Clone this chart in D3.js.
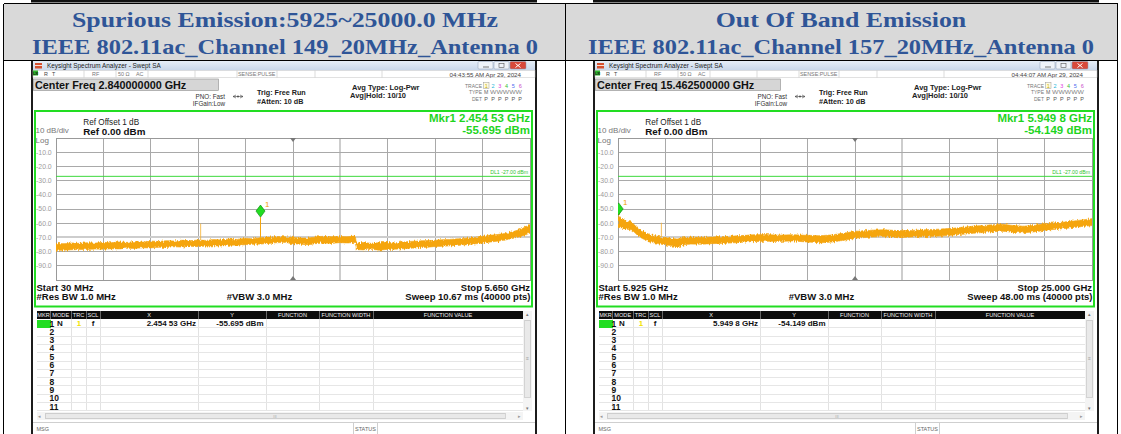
<!DOCTYPE html>
<html>
<head>
<meta charset="utf-8">
<script src="https://cdn.jsdelivr.net/npm/d3@7"></script>
<style>
body { margin: 0; background: #fff; }
svg { display: block; }
text { font-family: "Liberation Sans", Arial, sans-serif; }
text.serif { font-family: "Liberation Serif", "DejaVu Serif", serif; }
</style>
</head>
<body>
<script>
const dimensions = {
    width: 1121,
    height: 434
}

// header cells
const headLine1 = ['Spurious Emission:5925~25000.0 MHz', 'Out Of Band Emission']
const headLine2 = ['IEEE 802.11ac_Channel 149_20MHz_Antenna 0', 'IEEE 802.11ac_Channel 157_20MHz_Antenna 0']

// analyzer settings
const centerFreq = ['Center Freq 2.840000000 GHz', 'Center Freq 15.462500000 GHz']
const startFreq = [0.03, 5.925]   // GHz
const stopFreq = [5.65, 25.0]     // GHz
const startLabel = ['Start 30 MHz', 'Start 5.925 GHz']
const stopLabel = ['Stop 5.650 GHz', 'Stop 25.000 GHz']
const sweepLabel = ['Sweep  10.67 ms (40000 pts)', 'Sweep  48.00 ms (40000 pts)']
const timeStamp = ['04:43:55 AM Apr 29, 2024', '04:44:07 AM Apr 29, 2024']
const refLevel = 0
const dbPerDiv = 10
const levelTicks = [-10, -20, -30, -40, -50, -60, -70, -80, -90]
const displayLine = -27

// marker 1
const mkrFreq = [2.45453, 5.9498]
const mkrLevel = [-55.695, -54.149]
const mkrFreqLabel = ['2.454 53 GHz', '5.949 8 GHz']
const mkrLevelLabel = ['-55.695 dBm', '-54.149 dBm']

// trace 1, left plot (GHz, top and bottom of the noise band in dBm)
const leftFreq = [0.03, 0.12, 0.22, 0.31, 0.40, 0.50, 0.59, 0.68, 0.78, 0.87, 0.96, 1.06, 1.15, 1.24, 1.34, 1.43, 1.52, 1.62, 1.71, 1.80,
    1.90, 1.99, 2.08, 2.18, 2.27, 2.36, 2.46, 2.55, 2.64, 2.74, 2.83, 2.92, 3.02, 3.11, 3.20, 3.30, 3.39, 3.48, 3.58, 3.59,
    3.67, 3.76, 3.86, 3.95, 4.04, 4.14, 4.23, 4.32, 4.42, 4.51, 4.60, 4.70, 4.79, 4.88, 4.98, 5.07, 5.16, 5.26, 5.35, 5.44, 5.54, 5.65]
const leftHigh = [-74.2, -74.4, -73.9, -74.2, -73.8, -74.0, -73.5, -73.8, -73.2, -73.5, -72.9, -73.3, -72.5, -72.9, -72.3, -72.6, -72.0, -72.4, -71.8, -72.1,
    -71.5, -71.8, -71.1, -71.4, -70.6, -70.9, -70.2, -69.8, -69.4, -69.5, -69.9, -70.5, -70.4, -69.7, -69.2, -69.6, -69.3, -69.5, -69.1, -73.9,
    -73.6, -74.1, -73.8, -73.5, -73.9, -73.2, -72.8, -72.6, -72.2, -72.1, -71.6, -71.4, -71.0, -70.6, -70.1, -69.4, -68.6, -68.0, -67.2, -66.1, -64.2, -61.0]
const leftLow = [-79.2, -79.0, -78.7, -78.6, -78.5, -78.2, -78.4, -78.0, -78.1, -77.6, -77.8, -77.3, -77.4, -77.0, -77.1, -76.6, -76.8, -76.3, -76.5, -76.1,
    -75.9, -76.1, -75.6, -75.4, -75.2, -74.9, -74.7, -74.3, -73.8, -73.5, -74.4, -74.8, -75.1, -74.4, -74.0, -74.2, -73.7, -73.9, -73.6, -78.6,
    -78.8, -78.3, -79.0, -78.5, -78.4, -78.0, -77.7, -77.3, -77.0, -76.5, -76.3, -75.9, -75.7, -75.2, -74.7, -74.1, -73.4, -72.7, -71.9, -70.8, -69.3, -67.0]

// trace 1, right plot
const rightFreq = [5.925, 6.06, 6.27, 6.47, 6.61, 6.74, 6.95, 7.22, 7.49, 7.77, 8.04, 8.31, 8.58, 8.86, 9.27, 9.68, 10.22, 10.77, 11.31, 11.86,
    12.41, 12.95, 13.50, 14.05, 14.59, 15.14, 15.54, 16.09, 16.64, 17.18, 17.73, 18.27, 18.82, 19.37, 19.91, 20.46, 21.00, 21.41, 21.82, 22.23,
    22.64, 23.05, 23.46, 23.87, 24.28, 24.69, 25.0]
const rightHigh = [-53.6, -56.6, -58.6, -59.1, -61.6, -64.1, -66.1, -68.1, -69.1, -70.1, -70.6, -71.1, -70.1, -69.8, -70.1, -69.8, -69.4, -68.9, -68.2, -68.0,
    -68.4, -68.1, -68.5, -68.8, -68.2, -66.6, -65.6, -64.9, -64.6, -65.2, -65.1, -64.6, -64.2, -63.6, -62.6, -61.8, -61.1, -60.8, -61.6, -62.1,
    -61.6, -60.4, -59.8, -59.2, -58.4, -57.5, -56.8]
const rightLow = [-63.0, -63.2, -64.2, -64.7, -66.7, -69.2, -71.2, -73.2, -74.2, -75.2, -75.7, -76.7, -75.2, -74.7, -74.8, -74.4, -74.2, -73.6, -73.0, -72.7,
    -72.8, -72.5, -73.2, -73.8, -73.2, -71.7, -70.5, -69.8, -69.4, -70.2, -69.7, -69.5, -69.1, -68.5, -67.6, -66.8, -66.0, -65.7, -66.4, -66.8,
    -66.2, -65.1, -64.4, -63.8, -63.0, -62.2, -61.7]

// narrow spurs above the noise band
const spurFreq = [[1.745], [7.67]]
const spurLevel = [[-60.3], [-59.7]]

// marker table
const tableHead = ['MKR', 'MODE', 'TRC', 'SCL', 'X', 'Y', 'FUNCTION', 'FUNCTION WIDTH', 'FUNCTION VALUE']
const tableRows = ['1', '2', '3', '4', '5', '6', '7', '8', '9', '10', '11']

const traces = [
    { freq: leftFreq, high: leftHigh, low: leftLow },
    { freq: rightFreq, high: rightHigh, low: rightLow }
]

const svg = d3.select('body').append('svg')
    .attr('width', dimensions.width)
    .attr('height', dimensions.height)

const defs = svg.append('defs')
const grad = defs.append('linearGradient').attr('id', 'titleGrad').attr('x1', 0).attr('y1', 0).attr('x2', 0).attr('y2', 1)
grad.append('stop').attr('offset', '0%').attr('stop-color', '#e6eef8')
grad.append('stop').attr('offset', '100%').attr('stop-color', '#c8d7ea')

// ragged edge for the noise band, like 40000 sweep points squeezed into a few hundred pixels
const noisy = defs.append('filter').attr('id', 'noisy')
    .attr('x', '-2%').attr('y', '-30%').attr('width', '104%').attr('height', '160%')
noisy.append('feTurbulence').attr('type', 'fractalNoise').attr('baseFrequency', '1.3 0.2')
    .attr('numOctaves', 2).attr('seed', 7).attr('result', 'n')
noisy.append('feDisplacementMap').attr('in', 'SourceGraphic').attr('in2', 'n').attr('scale', 4.5)
    .attr('xChannelSelector', 'R').attr('yChannelSelector', 'G')

// ---------- document table ----------
svg.append('rect').attr('x', 31).attr('y', 0).attr('width', 506).attr('height', 2.5).attr('fill', '#111')
svg.append('rect').attr('x', 593).attr('y', 0).attr('width', 506).attr('height', 2.5).attr('fill', '#111')

svg.append('rect').attr('x', 4).attr('y', 4).attr('width', 561).attr('height', 56).attr('fill', '#d9d9d9')
svg.append('rect').attr('x', 565).attr('y', 4).attr('width', 552).attr('height', 56).attr('fill', '#d9d9d9')

const borders = svg.append('g').attr('stroke', '#000').attr('stroke-width', 1).attr('shape-rendering', 'crispEdges')
borders.append('line').attr('x1', 3.5).attr('x2', 1117.5).attr('y1', 3.5).attr('y2', 3.5)
borders.append('line').attr('x1', 3.5).attr('x2', 1117.5).attr('y1', 60.5).attr('y2', 60.5)
;[3.5, 565.5, 1117.5].forEach(function (bx) {
    borders.append('line').attr('x1', bx).attr('x2', bx).attr('y1', 3.5).attr('y2', 434)
})

const headCenters = [285, 841]
const headText = svg.append('g')

headLine1.forEach(function (t, i) {
    headText.append('text').attr('class', 'serif h1').attr('x', headCenters[i]).attr('y', 27).text(t)
    headText.append('text').attr('class', 'serif h2').attr('x', headCenters[i]).attr('y', 54).text(headLine2[i])
})
headText.selectAll('text')
    .attr('font-weight', 'bold')
    .attr('font-size', 22)
    .attr('fill', '#2f5597')
    .attr('text-anchor', 'middle')
// widen the serif face to the width of the Cambria original
const stretch1 = 426 / headText.select('.h1').node().getComputedTextLength()
const stretch2 = 506 / headText.select('.h2').node().getComputedTextLength()
headText.selectAll('text').each(function () {
    const w = this.getComputedTextLength()
    const s = d3.select(this).classed('h1') ? stretch1 : stretch2
    d3.select(this).attr('textLength', w * s).attr('lengthAdjust', 'spacingAndGlyphs')
})

// ---------- analyzer screenshots ----------
function txt(g, x, y, s, size, opts) {
    opts = opts || {}
    return g.append('text')
        .attr('x', x).attr('y', y)
        .attr('font-size', size)
        .attr('font-weight', opts.bold ? 'bold' : 'normal')
        .attr('fill', opts.fill || '#111')
        .attr('text-anchor', opts.anchor || 'start')
        .text(s)
}

function drawPanel(p, dx) {
    const g = svg.append('g').attr('transform', 'translate(' + dx + ',0)')

    const x = d3.scaleLinear().domain([startFreq[p], stopFreq[p]]).range([56, 530])
    const y = d3.scaleLinear().domain([refLevel, refLevel - 10 * dbPerDiv]).range([138, 280])
    const div = d3.scaleLinear().domain([0, 10]).range([56, 530])

    // window frame
    g.append('rect').attr('x', 31).attr('y', 61).attr('width', 506).attr('height', 380).attr('fill', '#1c1c1c')
    g.append('rect').attr('x', 33).attr('y', 61).attr('width', 502).attr('height', 380).attr('fill', '#fff')

    // title bar
    g.append('rect').attr('x', 33).attr('y', 61).attr('width', 502).attr('height', 9.5).attr('fill', 'url(#titleGrad)')
    g.append('rect').attr('x', 35).attr('y', 63).attr('width', 7).attr('height', 5.5).attr('fill', '#d5512f')
    g.append('rect').attr('x', 35).attr('y', 65).attr('width', 7).attr('height', 0.8).attr('fill', '#fff')
    txt(g, 47, 68.3, 'Keysight Spectrum Analyzer - Swept SA', 6.4, { fill: '#222' })
    const btn = [[478, 15, '#eef3f9'], [494, 15, '#eef3f9'], [510, 16, '#d8493b']]
    btn.forEach(function (b) {
        g.append('rect').attr('x', b[0]).attr('y', 61.5).attr('width', b[1]).attr('height', 7.5)
            .attr('rx', 1).attr('fill', b[2]).attr('stroke', '#8a9bb3').attr('stroke-width', 0.5)
    })
    g.append('line').attr('x1', 483).attr('x2', 489).attr('y1', 67).attr('y2', 67).attr('stroke', '#555').attr('stroke-width', 0.8)
    g.append('rect').attr('x', 499).attr('y', 63.5).attr('width', 5).attr('height', 4).attr('fill', 'none').attr('stroke', '#555').attr('stroke-width', 0.6)
    g.append('path').attr('d', 'M515.5,63.5 L520.5,67.5 M520.5,63.5 L515.5,67.5').attr('stroke', '#fff').attr('stroke-width', 1)

    // status row
    g.append('rect').attr('x', 33).attr('y', 70.5).attr('width', 502).attr('height', 7).attr('fill', '#fff').attr('stroke', '#c4c4c4').attr('stroke-width', 0.5)
    ;[84, 116, 148, 195, 237, 277, 315, 382].forEach(function (lx) {
        g.append('line').attr('x1', lx).attr('x2', lx).attr('y1', 70.5).attr('y2', 77.5).attr('stroke', '#c4c4c4').attr('stroke-width', 0.6)
    })
    g.append('rect').attr('x', 33).attr('y', 70.5).attr('width', 5).attr('height', 5).attr('fill', '#2fb52f')
    txt(g, 33.3, 74.8, 'LXI', 3.2, { fill: '#111', bold: true })
    txt(g, 44, 76, 'R', 5.4, { fill: '#444' })
    txt(g, 52, 76, 'T', 5.4, { fill: '#444' })
    txt(g, 92, 76, 'RF', 5.4, { fill: '#777' })
    txt(g, 118, 76, '50 Ω', 5.4, { fill: '#777' })
    txt(g, 136, 76, 'AC', 5.4, { fill: '#777' })
    txt(g, 238, 76, 'SENSE:PULSE', 5.4, { fill: '#777' })
    txt(g, 521, 76.5, timeStamp[p], 6.2, { fill: '#444', anchor: 'end' })

    // center frequency box and settings
    g.append('rect').attr('x', 33.5).attr('y', 79).attr('width', 185).attr('height', 11.5)
        .attr('fill', '#d6d6d6').attr('stroke', '#8c8c8c').attr('stroke-width', 0.6)
    txt(g, 35, 88.6, centerFreq[p], 10.8, { bold: true })
    txt(g, 225, 98.5, 'PNO: Fast', 6.3, { fill: '#333', anchor: 'end' })
    txt(g, 225, 105.5, 'IFGain:Low', 6.3, { fill: '#333', anchor: 'end' })
    g.append('path').attr('d', 'M233,96.5 L243,96.5 M236,95 L233,96.5 L236,98 M240,95 L243,96.5 L240,98')
        .attr('stroke', '#444').attr('stroke-width', 0.6).attr('fill', 'none')
    g.append('circle').attr('cx', 238).attr('cy', 96.5).attr('r', 0.9).attr('fill', '#444')
    txt(g, 257, 95, 'Trig: Free Run', 7.2, { bold: true, fill: '#222' })
    txt(g, 257, 103.5, '#Atten: 10 dB', 7.2, { bold: true, fill: '#222' })
    txt(g, 352, 90, 'Avg Type: Log-Pwr', 7.5, { bold: true, fill: '#222' })
    txt(g, 350, 97.5, 'Avg|Hold: 10/10', 7.5, { bold: true, fill: '#222' })

    txt(g, 482, 87.5, 'TRACE', 5, { fill: '#777', anchor: 'end' })
    txt(g, 482, 94, 'TYPE', 5, { fill: '#777', anchor: 'end' })
    txt(g, 482, 100.5, 'DET', 5, { fill: '#777', anchor: 'end' })
    const traceColors = ['#c9b300', '#19b5d8', '#e040e0', '#33bb33', '#4a6cf0', '#c94ac9']
    g.append('rect').attr('x', 483.5).attr('y', 82.5).attr('width', 5.5).attr('height', 6).attr('fill', '#fffbe0').attr('stroke', '#999').attr('stroke-width', 0.5)
    traceColors.forEach(function (c, k) {
        const tx = 486.2 + k * 6.8
        txt(g, tx, 87.5, String(k + 1), 5.5, { fill: c, anchor: 'middle' })
        txt(g, tx, 100.5, 'P', 5.5, { fill: '#555', anchor: 'middle' })
    })
    txt(g, 486.2, 94, 'M', 5.2, { fill: '#666', anchor: 'middle' })
    txt(g, 490, 94, 'WWWWW', 4.5, { fill: '#888' }).attr('textLength', 32).attr('lengthAdjust', 'spacingAndGlyphs')

    // green measurement frame
    g.append('rect').attr('x', 35).attr('y', 111).attr('width', 497).attr('height', 195.5)
        .attr('fill', 'none').attr('stroke', '#22dd22').attr('stroke-width', 2)

    txt(g, 83.3, 125.3, 'Ref Offset 1 dB', 8.2, { fill: '#222' })
    txt(g, 83.3, 134.5, 'Ref 0.00 dBm', 9.8, { bold: true, fill: '#111' })
    txt(g, 35.5, 133.2, '10 dB/div', 8, { fill: '#777' })
    txt(g, 35.5, 142.7, 'Log', 8, { fill: '#777' })
    txt(g, 530, 121.5, 'Mkr1 ' + mkrFreqLabel[p], 11.5, { bold: true, fill: '#1fd41f', anchor: 'end' })
    txt(g, 530, 134, mkrLevelLabel[p], 11.5, { bold: true, fill: '#1fd41f', anchor: 'end' })

    // graticule
    const grid = g.append('g').attr('shape-rendering', 'crispEdges')
    grid.append('rect').attr('x', 56).attr('y', 138).attr('width', 474).attr('height', 142).attr('fill', '#fff')
    d3.range(1, 10).forEach(function (k) {
        grid.append('line').attr('x1', div(k)).attr('x2', div(k)).attr('y1', 138).attr('y2', 280)
            .attr('stroke', k === 6 ? '#cdcdcd' : '#a9a9a9').attr('stroke-width', k === 6 ? 2 : 1)
    })
    levelTicks.forEach(function (v) {
        grid.append('line').attr('x1', 56).attr('x2', 530).attr('y1', y(v)).attr('y2', y(v))
            .attr('stroke', v === -70 ? '#cdcdcd' : '#a9a9a9').attr('stroke-width', v === -70 ? 2 : 1)
        txt(g, 36, y(v) + 2.4, v.toFixed(1), 6.9, { fill: '#9c9c9c' })
    })
    grid.append('rect').attr('x', 56).attr('y', 138).attr('width', 474).attr('height', 142)
        .attr('fill', 'none').attr('stroke', '#999').attr('stroke-width', 1)
    g.append('path').attr('d', 'M' + (div(5) - 3) + ',138 L' + (div(5) + 3) + ',138 L' + div(5) + ',142 Z').attr('fill', '#777')
    g.append('path').attr('d', 'M' + (div(5) - 3) + ',280 L' + (div(5) + 3) + ',280 L' + div(5) + ',276 Z').attr('fill', '#777')

    // display line
    g.append('line').attr('x1', 56).attr('x2', 530).attr('y1', y(displayLine)).attr('y2', y(displayLine))
        .attr('stroke', '#3cd93c').attr('stroke-width', 1)
    txt(g, 528, y(displayLine) - 2, 'DL1 -27.00 dBm', 5.2, { fill: '#2fc42f', anchor: 'end' })

    // trace
    const clipId = 'clip' + p
    defs.append('clipPath').attr('id', clipId).append('rect').attr('x', 56).attr('y', 138).attr('width', 474).attr('height', 142)
    const plot = g.append('g').attr('clip-path', 'url(#' + clipId + ')')
    const tr = traces[p]
    const band = tr.freq.map(function (f, i) { return [f, tr.high[i], tr.low[i]] })
    const area = d3.area()
        .x(function (d) { return x(d[0]) })
        .y0(function (d) { return y(d[2]) })
        .y1(function (d) { return y(d[1]) })
    plot.append('path').datum(band).attr('d', area)
        .attr('fill', '#f5a50c').attr('stroke', '#f5a50c').attr('stroke-width', 0.6)
        .attr('filter', 'url(#noisy)')

    const bandTop = d3.scaleLinear().domain(tr.freq).range(tr.high)
    spurFreq[p].forEach(function (f, i) {
        plot.append('line').attr('x1', x(f)).attr('x2', x(f)).attr('y1', y(bandTop(f))).attr('y2', y(spurLevel[p][i]))
            .attr('stroke', '#f5b030').attr('stroke-width', 0.8)
    })
    const mx = x(mkrFreq[p])
    const my = y(mkrLevel[p])
    plot.append('line').attr('x1', mx).attr('x2', mx).attr('y1', y(bandTop(mkrFreq[p]))).attr('y2', my)
        .attr('stroke', '#f5a50c').attr('stroke-width', 1)
    plot.append('path').attr('d', 'M' + mx + ',' + my + ' L' + (mx + 4.5) + ',' + (my - 6) + ' L' + mx + ',' + (my - 12) + ' L' + (mx - 4.5) + ',' + (my - 6) + ' Z')
        .attr('fill', '#22dd22').attr('stroke', '#0f8f0f').attr('stroke-width', 0.7)
    txt(g, mx + 4.5, my - 10, '1', 8, { fill: '#f0a000' })

    // bottom annotations
    txt(g, 36.5, 290.7, startLabel[p], 9.5, { bold: true })
    txt(g, 530, 290.7, stopLabel[p], 9.5, { bold: true, anchor: 'end' })
    txt(g, 36.5, 300.3, '#Res BW 1.0 MHz', 9.5, { bold: true })
    txt(g, 226.7, 300.3, '#VBW 3.0 MHz', 9.5, { bold: true })
    txt(g, 530.5, 300.3, sweepLabel[p], 9.5, { bold: true, anchor: 'end' })

    // marker table
    const colEdges = [36.5, 50.5, 71, 86, 100, 198, 266, 319, 373, 523]
    const tb = g.append('g').attr('shape-rendering', 'crispEdges')
    tb.append('rect').attr('x', 36.5).attr('y', 311).attr('width', 486.5).attr('height', 8).attr('fill', '#0c0c0c')
    tableHead.forEach(function (h, k) {
        const cx = (colEdges[k] + colEdges[k + 1]) / 2
        txt(g, cx, 317.2, h, 5.6, { fill: '#f2f2f2', anchor: 'middle' })
        if (k > 0) {
            tb.append('line').attr('x1', colEdges[k]).attr('x2', colEdges[k]).attr('y1', 311).attr('y2', 319).attr('stroke', '#666')
            tb.append('line').attr('x1', colEdges[k]).attr('x2', colEdges[k]).attr('y1', 319).attr('y2', 410.5).attr('stroke', '#e2e2e2')
        }
    })
    const rowH = 8.3
    tableRows.forEach(function (r, k) {
        const ry = 319.5 + k * rowH
        tb.append('line').attr('x1', 36.5).attr('x2', 523).attr('y1', ry + rowH).attr('y2', ry + rowH).attr('stroke', '#e6e6e6')
        if (k === 0) {
            tb.append('rect').attr('x', 36.5).attr('y', ry).attr('width', 14).attr('height', rowH).attr('fill', '#22dd22')
        }
        txt(g, 49.5, ry + 7, r, 8.5, { bold: true })
    })
    const r1 = 319.5 + 6.9
    txt(g, 60, r1, 'N', 8, { bold: true, anchor: 'middle' })
    txt(g, 79, r1, '1', 8, { bold: true, fill: '#f2e200', anchor: 'middle' })
    txt(g, 93, r1, 'f', 8, { bold: true, anchor: 'middle' })
    txt(g, 196, r1, mkrFreqLabel[p], 8, { bold: true, anchor: 'end' })
    txt(g, 263.5, r1, mkrLevelLabel[p], 8, { bold: true, anchor: 'end' })

    // scroll bars
    tb.append('rect').attr('x', 523).attr('y', 311).attr('width', 9).attr('height', 100).attr('fill', '#f4f4f4')
    tb.append('rect').attr('x', 524.5).attr('y', 320).attr('width', 6).attr('height', 77).attr('fill', '#e9e9e9').attr('stroke', '#bdbdbd').attr('stroke-width', 0.6)
    txt(g, 527.5, 316, '▴', 5, { fill: '#777', anchor: 'middle' })
    txt(g, 527.5, 410, '▾', 5, { fill: '#777', anchor: 'middle' })
    txt(g, 527.5, 359.5, '≡', 5, { fill: '#999', anchor: 'middle' })
    tb.append('rect').attr('x', 36.5).attr('y', 411.5).attr('width', 486.5).attr('height', 8.5).attr('fill', '#f4f4f4')
    tb.append('rect').attr('x', 45).attr('y', 413).attr('width', 460).attr('height', 5.5).attr('fill', '#e9e9e9').attr('stroke', '#bdbdbd').attr('stroke-width', 0.6)
    txt(g, 39.5, 418, '◂', 5, { fill: '#999', anchor: 'middle' })
    txt(g, 519, 418, '▸', 5, { fill: '#999', anchor: 'middle' })
    txt(g, 275, 417.8, 'III', 4, { fill: '#aaa', anchor: 'middle' })

    // message / status line
    tb.append('line').attr('x1', 33).attr('x2', 535).attr('y1', 422).attr('y2', 422).attr('stroke', '#cfcfcf')
    tb.append('line').attr('x1', 353).attr('x2', 353).attr('y1', 422).attr('y2', 434).attr('stroke', '#cfcfcf')
    tb.append('line').attr('x1', 377).attr('x2', 377).attr('y1', 422).attr('y2', 434).attr('stroke', '#cfcfcf')
    txt(g, 36.5, 431, 'MSG', 5.5, { fill: '#666' })
    txt(g, 355, 431, 'STATUS', 5.5, { fill: '#666' })
}

drawPanel(0, 0)
drawPanel(1, 562)
</script>
</body>
</html>
